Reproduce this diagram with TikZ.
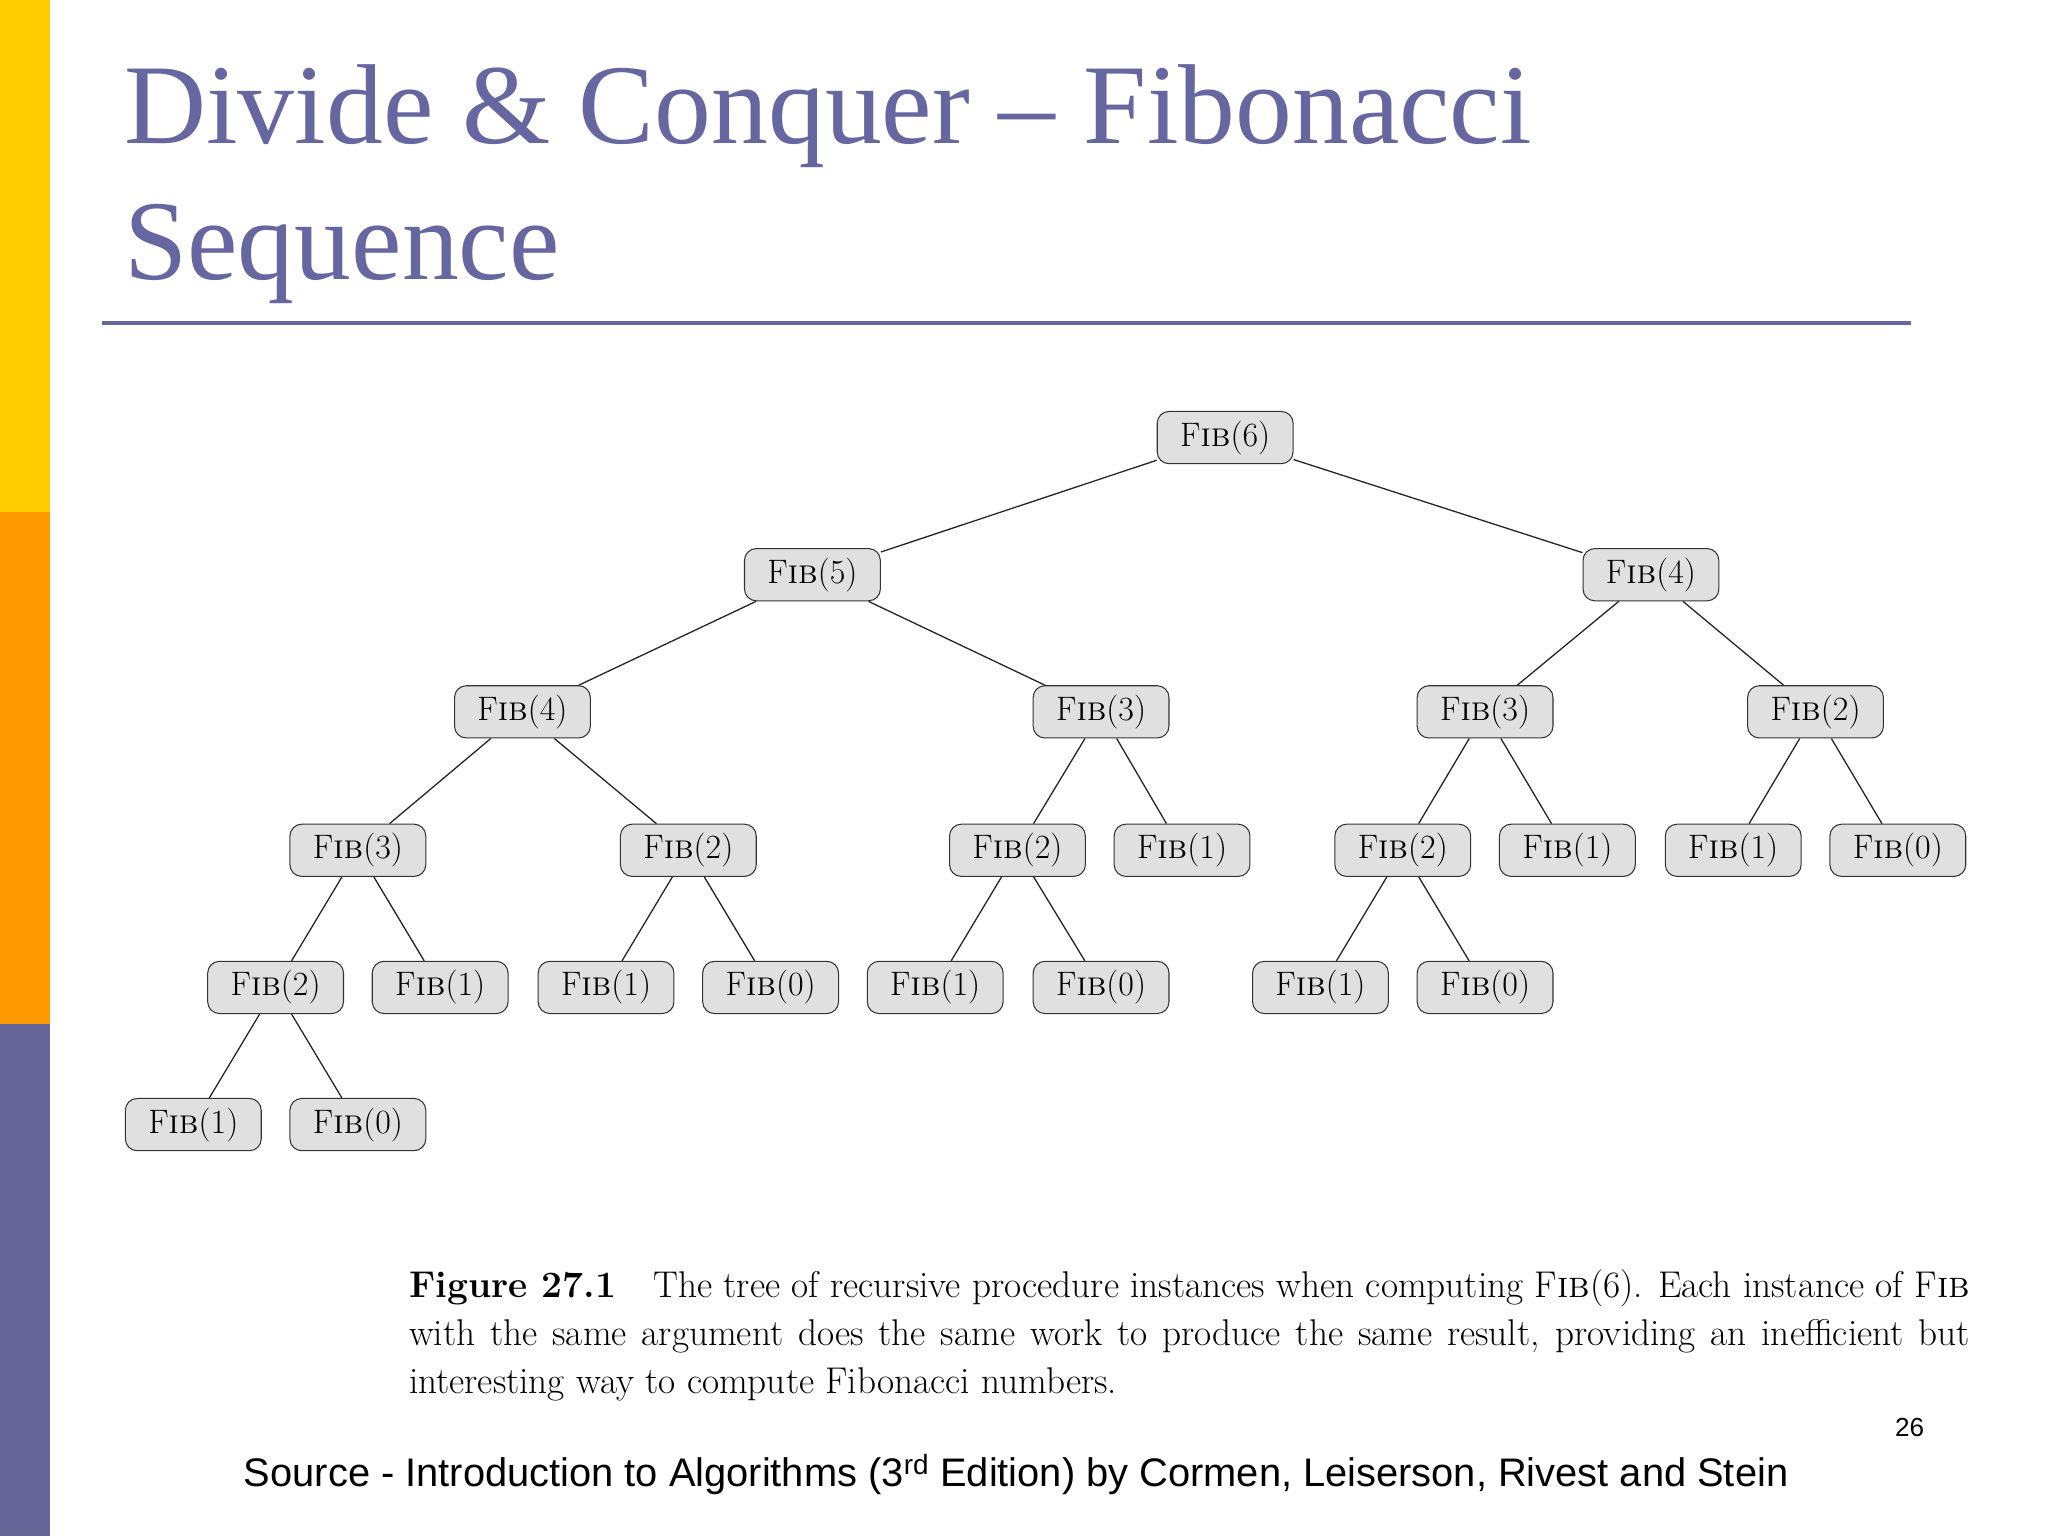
\documentclass[tikz,border=0pt]{standalone}
\usepackage{fontspec}
\newfontfamily\titlefont{Liberation Serif}
\newfontfamily\arialf{Liberation Sans}
\definecolor{ttl}{HTML}{6666A0}
\definecolor{barY}{HTML}{FFCC00}
\definecolor{barO}{HTML}{FF9900}
\definecolor{barP}{HTML}{666699}
\begin{document}
\begin{tikzpicture}[x=1pt,y=-1pt,
  fb/.style={draw=black!80,fill=black!12,rounded corners=9pt,minimum width=104pt,minimum height=40pt,inner sep=0pt,font=\fontsize{26}{30}\selectfont,line width=0.8pt},
  ed/.style={draw=black!85,line width=1pt}]
\useasboundingbox (0,0) rectangle (1568,1176);
\fill[white] (0,0) rectangle (1568,1176);
\fill[barY] (0,0) rectangle (38,392);
\fill[barO] (0,392) rectangle (38,784);
\fill[barP] (0,784) rectangle (38,1176);
\node[anchor=base west,text=ttl,font=\titlefont\fontsize{87}{100}\selectfont,inner sep=0pt] (t1) at (95,110) {Divide \& Conquer – Fibonacci};
\node[anchor=base west,text=ttl,font=\titlefont\fontsize{87}{100}\selectfont,inner sep=0pt] (t2) at (95,214) {Sequence};
\draw[ttl,line width=3pt] (78,247) -- (1463,247);
\newcommand\fnode[4]{\node[fb] (#1) at (#2,#3) {F\textsc{ib}(#4)};}
\fnode{a}{938}{335}{6}
\fnode{b1}{622}{440}{5}\fnode{b2}{1264}{440}{4}
\fnode{c1}{400}{545}{4}\fnode{c2}{843}{545}{3}\fnode{c3}{1137}{545}{3}\fnode{c4}{1390}{545}{2}
\fnode{d1}{274}{651}{3}\fnode{d2}{527}{651}{2}\fnode{d3}{779}{651}{2}\fnode{d4}{905}{651}{1}
\fnode{d5}{1074}{651}{2}\fnode{d6}{1200}{651}{1}\fnode{d7}{1327}{651}{1}\fnode{d8}{1453}{651}{0}
\fnode{e1}{211}{756}{2}\fnode{e2}{337}{756}{1}\fnode{e3}{464}{756}{1}\fnode{e4}{590}{756}{0}
\fnode{e5}{716}{756}{1}\fnode{e6}{843}{756}{0}\fnode{e7}{1011}{756}{1}\fnode{e8}{1137}{756}{0}
\fnode{f1}{148}{861}{1}\fnode{f2}{274}{861}{0}
\foreach \p/\c in {a/b1,a/b2,b1/c1,b1/c2,b2/c3,b2/c4,c1/d1,c1/d2,c2/d3,c2/d4,c3/d5,c3/d6,c4/d7,c4/d8,d1/e1,d1/e2,d2/e3,d2/e4,d3/e5,d3/e6,d5/e7,d5/e8,e1/f1,e1/f2}
  \draw[ed] (\p) -- (\c);
\node[anchor=north west,text width=1195pt,align=justify,inner sep=0pt,font=\fontsize{28.5}{36.5}\selectfont] (cap) at (313,972)
{\textbf{Figure 27.1}\quad The tree of recursive procedure instances when computing F\textsc{ib}(6). Each instance of F\textsc{ib} with the same argument does the same work to produce the same result, providing an inefficient but interesting way to compute Fibonacci numbers.};
\node[font=\arialf\fontsize{20}{24}\selectfont] (pg) at (1462,1093) {26};
\node[font=\arialf\fontsize{30.5}{34}\selectfont] (src) at (778,1129) {Source - Introduction to Algorithms (3\textsuperscript{rd} Edition) by Cormen, Leiserson, Rivest and Stein};
\end{tikzpicture}
\end{document}
